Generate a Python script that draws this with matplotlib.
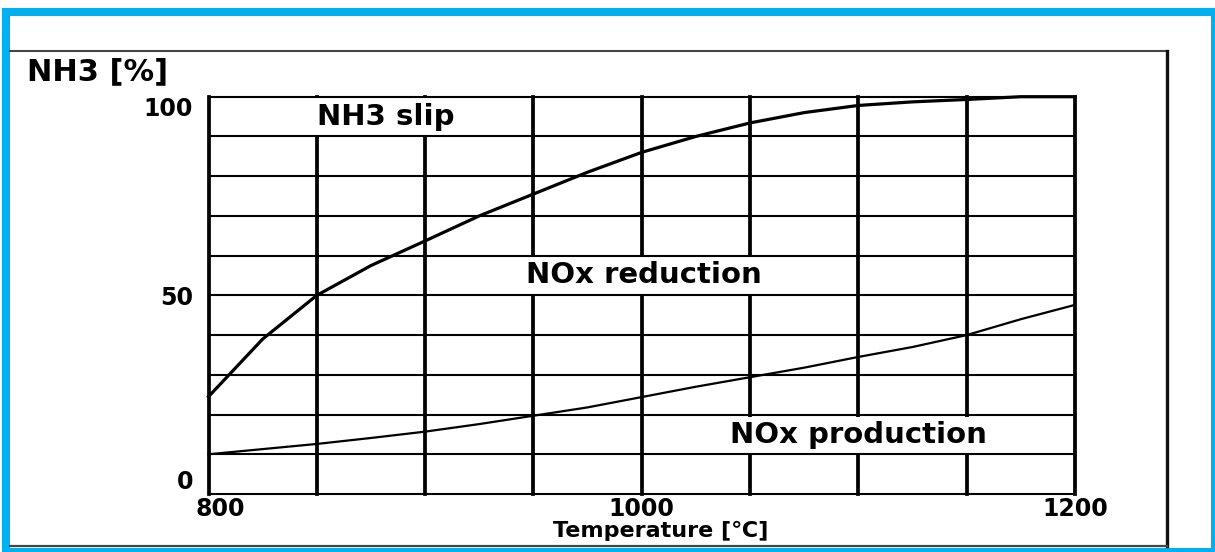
import matplotlib
matplotlib.use("Agg")
import matplotlib.pyplot as plt
from matplotlib.lines import Line2D
from matplotlib.patches import Rectangle
from matplotlib.transforms import ScaledTranslation

# ---- data ----
temperature = [800, 825, 850, 875, 900, 925, 950, 975, 1000,
               1025, 1050, 1075, 1100, 1125, 1150, 1175, 1200]
nox_reduction = [24.5, 39, 50, 57.5, 63.7, 70, 75.5, 81, 86,
                 90, 93.4, 96, 97.8, 98.7, 99.3, 100, 100]
nox_production = [10, 11.3, 12.6, 14.1, 15.7, 17.6, 19.7, 21.8, 24.4,
                  27, 29.4, 31.8, 34.5, 37, 40, 44, 47.6]
x_grid = [800, 850, 900, 950, 1000, 1050, 1100, 1150, 1200]
y_grid = [0, 10, 20, 30, 40, 50, 60, 70, 80, 90, 100]
x_ticks = [800, 1000, 1200]
x_ticklabels = ["800", "1000", "1200"]
y_ticks = [0, 50, 100]
y_ticklabels = ["0", "50", "100"]
x_label = "Temperature [℃]"
y_label = "NH3 [%]"
region_labels = ["NH3 slip", "NOx reduction", "NOx production"]

# ---- figure ----
W, H = 1215, 552
fig = plt.figure(figsize=(W / 100, H / 100), dpi=100)
FONT = "DejaVu Sans"


def fx(x):
    return x / W


def fy(y):
    return 1 - y / H


# decorative frames
fig.patches.append(Rectangle((fx(6), fy(552)), fx(1215) - fx(6), fy(12) - fy(552),
                             transform=fig.transFigure, fill=False,
                             edgecolor="#00B0F0", lw=5.8, zorder=0))
for (x0, y0, x1, y1, c, lw) in [(10, 51, 1167, 51, "#444444", 1.5),
                                (1167, 51, 1167, 546, "#111111", 2.4),
                                (10, 546, 1167, 546, "#444444", 1.6)]:
    fig.lines.append(Line2D([fx(x0), fx(x1)], [fy(y0), fy(y1)],
                            transform=fig.transFigure, color=c, lw=lw))

ax = fig.add_axes([fx(208.5), fy(494), fx(1075) - fx(208.5), fy(96.7) - fy(494)])
ax.set_xlim(temperature[0], temperature[-1])
ax.set_ylim(y_grid[0], y_grid[-1])
for s in ax.spines.values():
    s.set_visible(False)

ax.set_xticks(x_ticks)
ax.set_xticklabels(x_ticklabels)
ax.set_yticks(y_ticks)
ax.set_yticklabels(y_ticklabels)
ax.tick_params(which="both", length=0)
ax.tick_params(axis="x", pad=2)
ax.tick_params(axis="y", pad=11)
for lab in ax.get_xticklabels() + ax.get_yticklabels():
    lab.set_fontfamily(FONT)
    lab.set_fontweight("bold")
    lab.set_fontsize(17)
ylabs = ax.get_yticklabels()
ylabs[0].set_va("bottom")
ylabs[-1].set_va("top")
# the "800" label sits slightly right of its grid line in the reference
xlabs = ax.get_xticklabels()
xlabs[0].set_transform(xlabs[0].get_transform()
                       + ScaledTranslation(12 / 100, 0, fig.dpi_scale_trans))

# thick vertical grid lines (behind the label boxes)
for xv in x_grid:
    ax.axvline(xv, color="black", lw=2.7, zorder=1, clip_on=False)
# thin horizontal grid lines (above the label boxes)
for yv in y_grid:
    ax.axhline(yv, color="black", lw=1.5, zorder=3, clip_on=False)

ax.plot(temperature, nox_reduction, color="black", lw=2.3, zorder=4,
        clip_on=False, solid_joinstyle="round")
ax.plot(temperature, nox_production, color="black", lw=1.6, zorder=4,
        clip_on=False, solid_joinstyle="round")

box = dict(facecolor="white", edgecolor="none", pad=3)
ax.text(850, 95, region_labels[0], ha="left", va="center", fontsize=21,
        fontweight="bold", family=FONT, bbox=box, zorder=2)
ax.text(1001, 55, region_labels[1], ha="center", va="center", fontsize=21,
        fontweight="bold", family=FONT, bbox=box, zorder=2)
ax.text(1100, 14.8, region_labels[2], ha="center", va="center", fontsize=21,
        fontweight="bold", family=FONT, bbox=box, zorder=2)

ax.set_xlabel(x_label, fontsize=16, fontweight="bold", family=FONT)
ax.xaxis.set_label_coords((661 - 208.5) / (1075 - 208.5), (494 - 521) / (494 - 96.7))

fig.text(fx(27), fy(72), y_label, ha="left", va="center", fontsize=22,
         fontweight="bold", family=FONT)

fig.savefig("out.png", dpi=100, facecolor="white")
